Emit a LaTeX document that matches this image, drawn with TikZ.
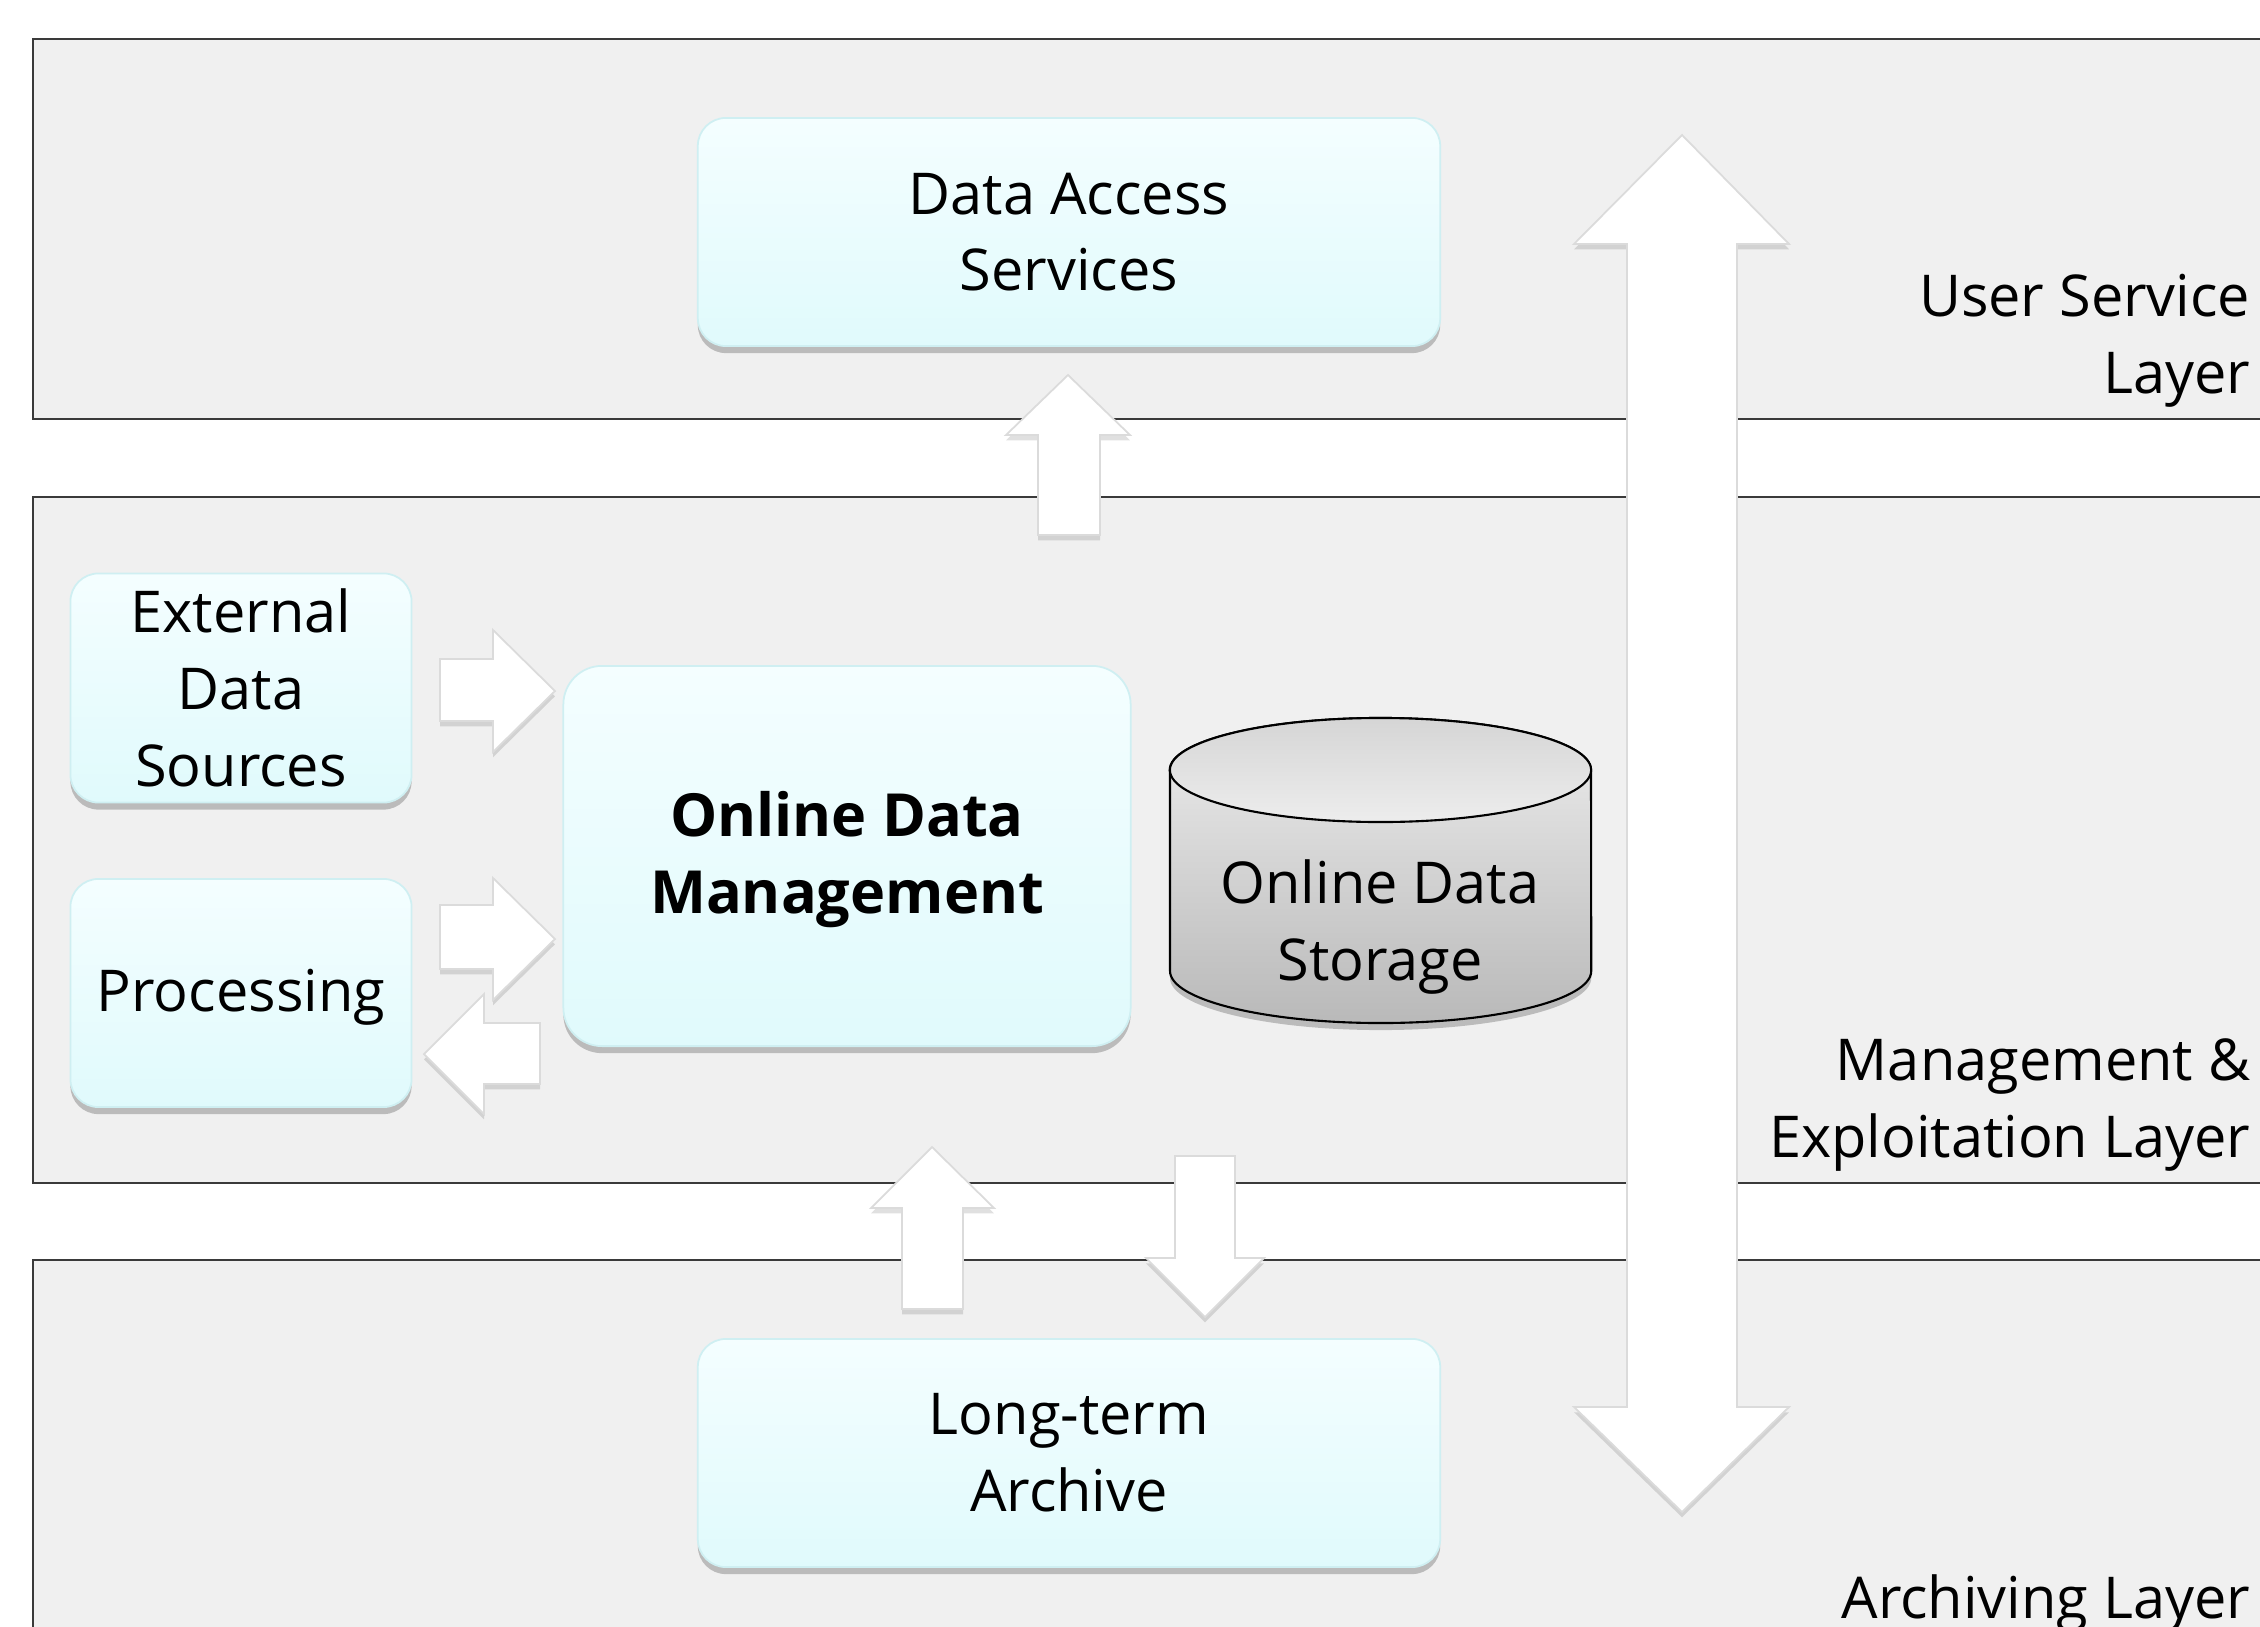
\documentclass[tikz,border=0pt]{standalone}
\usepackage{fontspec}
\setmainfont{Open Sans}
\usetikzlibrary{shadows}
\definecolor{bandfill}{HTML}{F0F0F0}
\definecolor{bandline}{HTML}{3A3A3A}
\definecolor{boxtop}{HTML}{F4FEFF}
\definecolor{boxbot}{HTML}{E0FAFC}
\definecolor{boxline}{HTML}{CFEFF2}
\definecolor{cyltop}{HTML}{EDEDED}
\definecolor{cylbot}{HTML}{B9B9B9}
\tikzset{
  band/.style={fill=bandfill, draw=bandline, line width=0.8pt},
  box/.style={rounded corners=8pt, draw=boxline, line width=0.5pt, top color=boxtop, bottom color=boxbot,
    inner sep=0pt,
    drop shadow={shadow xshift=0pt, shadow yshift=-2pt, fill=black, opacity=0.22}},
  txt/.style={align=center, inner sep=0pt},
  blk/.style={fill=white, draw=black!14, line width=0.5pt,
    drop shadow={shadow xshift=0pt, shadow yshift=-1.5pt, fill=black, opacity=0.12}},
  layerlbl/.style={anchor=east, align=right, inner sep=0pt},
}
\begin{document}
\begin{tikzpicture}[x=0.01cm, y=-0.01cm, font=\fontsize{16.4}{21.8}\selectfont]
\clip (0,0) rectangle (2260,1627);
\fill[white] (0,0) rectangle (2260,1627);
% layer bands
\draw[band] (33,39) rectangle (2300,419);
\draw[band] (33,497) rectangle (2300,1183);
\draw[band] (33,1260) rectangle (2300,1700);
% layer labels
\node[layerlbl] (lus) at (2251,341) {User Service\\Layer};
\node[layerlbl] (lme) at (2251,1105) {Management \&\\Exploitation Layer};
\node[layerlbl] (lar) at (2251,1603) {Archiving Layer};
% big double arrow
\draw[blk] (1682,135) -- (1789,244) -- (1737,244) -- (1737,1407) -- (1789,1407) -- (1682,1512)
  -- (1574,1407) -- (1627,1407) -- (1627,244) -- (1574,244) -- cycle;
% small block arrows
\draw[blk] (1068,375) -- (1130,435) -- (1100,435) -- (1100,535) -- (1038,535) -- (1038,435) -- (1006,435) -- cycle;
\draw[blk] (555,691) -- (493,752) -- (493,721) -- (440,721) -- (440,659) -- (493,659) -- (493,630) -- cycle;
\draw[blk] (555,939) -- (493,1000) -- (493,969) -- (440,969) -- (440,905) -- (493,905) -- (493,878) -- cycle;
\draw[blk] (424,1054) -- (484,994) -- (484,1023) -- (540,1023) -- (540,1084) -- (484,1084) -- (484,1114) -- cycle;
\draw[blk] (932,1147) -- (994,1208) -- (963,1208) -- (963,1309) -- (902,1309) -- (902,1208) -- (871,1208) -- cycle;
\draw[blk] (1205,1317) -- (1264,1258) -- (1235,1258) -- (1235,1156) -- (1175,1156) -- (1175,1258) -- (1146,1258) -- cycle;
% boxes
\node[box, minimum width=7.42cm, minimum height=2.28cm] (das) at (1069,232) {};
\node[txt] at (das.center) {Data Access\\Services};
\node[box, minimum width=3.41cm, minimum height=2.29cm] (ext) at (241,688) {};
\node[txt] at (ext.center) {External\\Data\\Sources};
\node[box, minimum width=3.41cm, minimum height=2.28cm] (proc) at (241,993) {};
\node[txt] at ([yshift=-1.2pt]proc.center) {Processing};
\node[box, rounded corners=11pt, minimum width=5.67cm, minimum height=3.80cm] (odm) at (847,856) {};
\node[txt, font=\fontsize{16.9}{21.8}\selectfont\bfseries] at ([yshift=-1pt]odm.center) {Online Data\\Management};
\node[box, minimum width=7.42cm, minimum height=2.28cm] (lta) at (1069,1453) {};
\node[txt] at (lta.center) {Long-term\\Archive};
% cylinder
\shade[top color=cyltop, bottom color=cylbot, draw=black, line width=0.6pt,
  drop shadow={shadow xshift=0pt, shadow yshift=-2pt, fill=black, opacity=0.22}]
  (1170,770) -- (1170,971) arc[start angle=180, end angle=360, x radius=2.105cm, y radius=0.52cm]
  -- (1591,770) arc[start angle=0, end angle=180, x radius=2.105cm, y radius=0.52cm] -- cycle;
\shade[top color=cyltop!90!black, bottom color=cyltop, draw=black, line width=0.6pt]
  (1380.5,770) ellipse[x radius=2.105cm, y radius=0.52cm];
\node[txt] (ods) at (1380,927) {Online Data\\Storage};
\end{tikzpicture}
\end{document}
